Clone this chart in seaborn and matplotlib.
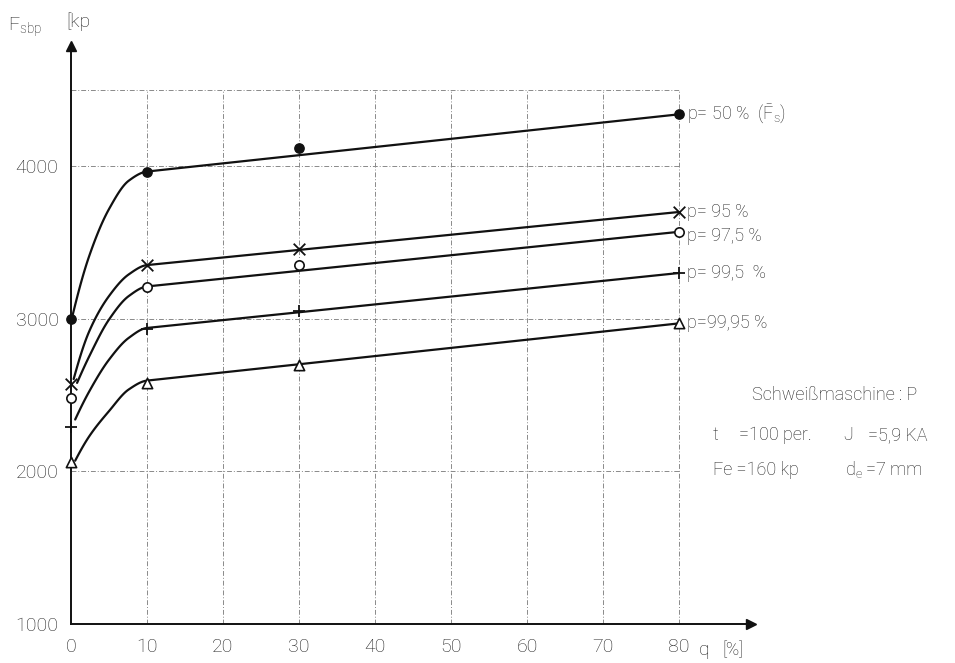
import numpy as np
import pandas as pd
import matplotlib
matplotlib.use("Agg")
import matplotlib.pyplot as plt
import seaborn as sns

# Measured strength values F_sbp [kp] over q [%]
q_points = [0, 10, 30, 80]
F_p50 = [3000, 3960, 4120, 4340]
F_p95 = [2575, 3350, 3455, 3700]
F_p975 = [2480, 3210, 3350, 3570]
F_p995 = [2290, 2935, 3050, 3300]
F_p9995 = [2060, 2580, 2700, 2970]

series_names = ["p50", "p95", "p975", "p995", "p9995"]
series_labels = ["p= 50 %  $(\\bar{\\mathrm{F}}_{\\mathrm{s}})$", "p= 95 %", "p= 97,5 %",
                 "p= 99,5  %", "p=99,95 %"]
series_markers = ["o", "x", "o", "+", "^"]
series_filled = [True, False, False, False, False]

# Fitted curves (hand-drawn balancing curves): start point, values at
# q = 2.4 / 5 / 7.6, value at the knee q=10, value at q=80
fit_start_q = [0.1, 0.35, 0.8, 0.55, 0.55]
fit_start = [3000, 2605, 2580, 2340, 2070]
fit_q = [2.4, 5.0, 7.6]
fit_p50 = [3412, 3719, 3905]
fit_p95 = [2918, 3149, 3291]
fit_p975 = [2754, 2995, 3149]
fit_p995 = [2524, 2732, 2875]
fit_p9995 = [2230, 2395, 2537]
fit_knee = [3965, 3352, 3212, 2940, 2595]
fit_end = [4340, 3700, 3570, 3300, 2970]

x_ticks = [0, 10, 20, 30, 40, 50, 60, 70, 80]
y_ticks = [1000, 2000, 3000, 4000]
grid_y = [2000, 3000, 4000, 4500]

sns.set_theme(style="white")
plt.rcParams["font.family"] = ["Roboto", "DejaVu Sans"]
plt.rcParams["font.weight"] = "light"
plt.rcParams["mathtext.fontset"] = "custom"
plt.rcParams["mathtext.rm"] = "Roboto:light"
plt.rcParams["mathtext.it"] = "Roboto:light"

W, H = 955, 663
fig = plt.figure(figsize=(W / 100, H / 100), dpi=100)
fig.patch.set_facecolor("white")

# axes placed so that q=0 / F=1000 sits at the lower-left corner
x_left, y_bottom = 71, 624
px_per_q = 7.6
px_per_kp = 0.1526
xmax, ymax = 89.5, 4790
ax = fig.add_axes([x_left / W, (H - y_bottom) / H,
                   xmax * px_per_q / W, (ymax - 1000) * px_per_kp / H])
ax.set_xlim(0, xmax)
ax.set_ylim(1000, ymax)
ax.set_facecolor("white")

# dotted-dashed grid inside the 0..80 x 1000..4500 field
grid_style = dict(color="#8a8a8a", lw=0.7, ls=(0, (5, 2, 1, 2)), zorder=1)
for gx in x_ticks[1:]:
    ax.plot([gx, gx], [1000, 4500], **grid_style)
for gy in grid_y:
    ax.plot([0, 80], [gy, gy], **grid_style)


def pchip_curve(xk, yk, end_slope, n=20):
    """Monotone cubic through (xk, yk) with a prescribed slope at the last point."""
    xk = np.asarray(xk, float)
    yk = np.asarray(yk, float)
    h = np.diff(xk)
    d = np.diff(yk) / h
    m = np.zeros_like(xk)
    for k in range(1, len(xk) - 1):
        if d[k - 1] * d[k] > 0:
            w1 = 2 * h[k] + h[k - 1]
            w2 = h[k] + 2 * h[k - 1]
            m[k] = (w1 + w2) / (w1 / d[k - 1] + w2 / d[k])
    m0 = ((2 * h[0] + h[1]) * d[0] - h[0] * d[1]) / (h[0] + h[1])
    m[0] = min(max(m0, 0.0), 3 * d[0])
    m[-1] = end_slope
    xs, ys = [], []
    for k in range(len(h)):
        t = np.linspace(0, 1, n, endpoint=(k == len(h) - 1))
        h00 = 2 * t**3 - 3 * t**2 + 1
        h10 = t**3 - 2 * t**2 + t
        h01 = -2 * t**3 + 3 * t**2
        h11 = t**3 - t**2
        xs.append(xk[k] + t * h[k])
        ys.append(h00 * yk[k] + h10 * h[k] * m[k] + h01 * yk[k + 1] + h11 * h[k] * m[k + 1])
    return np.concatenate(xs), np.concatenate(ys)


# fitted curves: smooth rise up to q=10, straight line to q=80
ink = "#111111"
fit_mid = [fit_p50, fit_p95, fit_p975, fit_p995, fit_p9995]
rows = []
for name, qs, y0, ymid, yk, ye in zip(series_names, fit_start_q, fit_start,
                                      fit_mid, fit_knee, fit_end):
    xk = [qs] + fit_q + [10]
    ykk = [y0] + ymid + [yk]
    xc, yc = pchip_curve(xk, ykk, (ye - yk) / 70.0)
    xs = np.concatenate([xc, [80]])
    ys = np.concatenate([yc, [ye]])
    rows.append(pd.DataFrame({"q": xs, "F": ys, "series": name}))
curves = pd.concat(rows, ignore_index=True)
sns.lineplot(data=curves, x="q", y="F", units="series", estimator=None,
             color=ink, lw=1.6, sort=False, ax=ax, zorder=3)

# measured points
measured = {"p50": F_p50, "p95": F_p95, "p975": F_p975,
            "p995": F_p995, "p9995": F_p9995}
for name, mk, filled in zip(series_names, series_markers, series_filled):
    df = pd.DataFrame({"q": q_points, "F": measured[name]})
    if mk in ("x", "+"):
        sns.scatterplot(data=df, x="q", y="F", marker=mk, s=70, color=ink,
                        linewidth=1.3, ax=ax, zorder=4, clip_on=False)
    elif filled:
        sns.scatterplot(data=df, x="q", y="F", marker=mk, s=45, color=ink,
                        edgecolor=ink, linewidth=1.0, ax=ax, zorder=4, clip_on=False)
    else:
        sns.scatterplot(data=df, x="q", y="F", marker=mk, s=55 if mk == "^" else 45,
                        facecolor="white", edgecolor=ink, linewidth=1.2,
                        ax=ax, zorder=4, clip_on=False)

# series labels right of the q=80 points
label_dy = [0, 0, -25, 0, 0]
for lab, ye, dy in zip(series_labels, [v[-1] for v in measured.values()], label_dy):
    ax.text(81.0, ye + dy, lab, ha="left", va="center", fontsize=13,
            color="#222222")

# axes with arrow heads
for side in ("top", "right"):
    ax.spines[side].set_visible(False)
for side in ("left", "bottom"):
    ax.spines[side].set_color(ink)
    ax.spines[side].set_linewidth(1.4)
ax.plot(1, 0, ">", color=ink, ms=7, transform=ax.transAxes, clip_on=False)
ax.plot(0, 1, "^", color=ink, ms=7, transform=ax.transAxes, clip_on=False)

ax.set_xticks(x_ticks)
ax.set_xticklabels([str(v) for v in x_ticks])
ax.set_yticks(y_ticks)
ax.set_yticklabels([str(v) for v in y_ticks])
ax.tick_params(axis="x", length=4, width=0.8, color=ink, pad=6,
               labelsize=14, labelcolor="#222222", direction="out")
ax.tick_params(axis="y", length=6, width=0.8, color="#777777", pad=3,
               labelsize=14, labelcolor="#222222", direction="out")
ax.set_xlabel("")
ax.set_ylabel("")


def put(px, py, s, **kw):
    kw.setdefault("fontsize", 13)
    kw.setdefault("color", "#222222")
    kw.setdefault("va", "center")
    kw.setdefault("ha", "left")
    fig.text(px / W, 1 - py / H, s, **kw)


# axis titles
put(8, 27, "$\\mathrm{F_{sbp}}$", fontsize=14)
put(66, 22, "[kp", fontsize=14)
put(699, 650, "q", fontsize=14)
put(722, 650, "[%]", fontsize=13)

# machine data block
put(752, 395, "Schweißmaschine : P")
put(713, 435, "t")
put(739, 435, "=100 per.")
put(843, 435, "J")
put(868, 435, "=5,9 KA")
put(713, 470, "Fe =160 kp")
put(845, 470, "$\\mathrm{d_e}$")
put(866, 470, "=7 mm")

fig.savefig("out.png", dpi=100, facecolor="white")
